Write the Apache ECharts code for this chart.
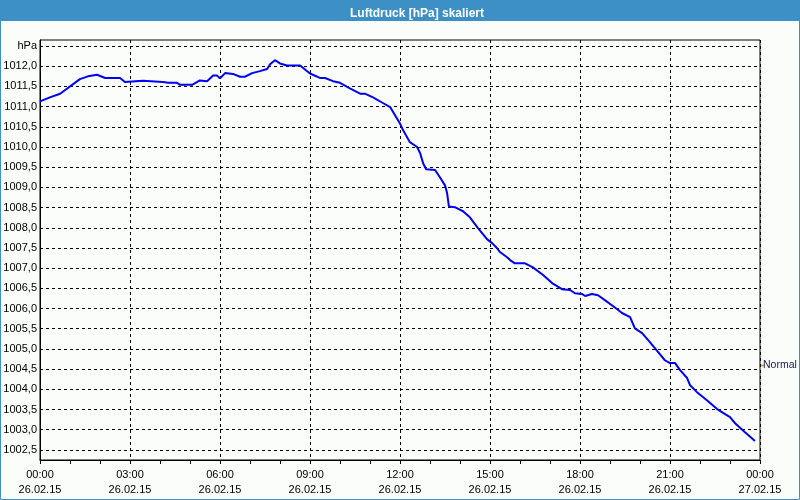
<!DOCTYPE html>
<html>
<head>
<meta charset="utf-8">
<script src="https://cdn.jsdelivr.net/npm/echarts@6/dist/echarts.min.js"></script>
<style>html,body{margin:0;padding:0;background:#fbfdfb;}#c{width:800px;height:500px;}</style>
</head>
<body>
<div id="c"></div>
<script>
// time in hours since 26.02.15 00:00
var hours = [0,0.33,0.67,1.33,1.6,1.9,2.17,2.67,2.83,3.43,4.1,4.27,4.57,4.67,5.07,5.33,5.57,5.77,5.9,6.0,6.17,6.43,6.67,6.83,7.07,7.33,7.57,7.67,7.83,8.0,8.23,8.67,9.0,9.33,9.5,9.77,10.0,10.33,10.67,10.83,11.1,11.43,11.67,12.0,12.1,12.33,12.57,12.67,12.77,12.87,13.17,13.33,13.5,13.57,13.63,13.83,14.1,14.33,14.6,14.9,15.07,15.23,15.33,15.57,15.67,15.83,16.17,16.43,16.77,17.07,17.4,17.67,17.83,18.07,18.17,18.4,18.6,18.83,19.23,19.4,19.67,19.83,20.07,20.33,20.57,20.83,21.0,21.17,21.33,21.57,21.67,21.9,22.23,22.57,23.0,23.17,23.5,23.73,23.83];
var pressure = [1011.13,1011.23,1011.32,1011.68,1011.75,1011.79,1011.71,1011.71,1011.61,1011.64,1011.61,1011.59,1011.59,1011.54,1011.54,1011.65,1011.63,1011.77,1011.77,1011.70,1011.83,1011.81,1011.74,1011.74,1011.83,1011.88,1011.93,1012.05,1012.15,1012.07,1012.02,1012.02,1011.82,1011.71,1011.71,1011.63,1011.59,1011.45,1011.32,1011.32,1011.23,1011.09,1010.99,1010.58,1010.42,1010.12,1010.00,1009.85,1009.60,1009.45,1009.43,1009.25,1009.05,1008.86,1008.53,1008.51,1008.41,1008.26,1007.99,1007.72,1007.62,1007.50,1007.40,1007.27,1007.20,1007.12,1007.12,1007.02,1006.83,1006.63,1006.48,1006.46,1006.38,1006.36,1006.31,1006.36,1006.33,1006.21,1005.99,1005.89,1005.79,1005.51,1005.39,1005.17,1004.95,1004.72,1004.65,1004.65,1004.48,1004.28,1004.10,1003.93,1003.73,1003.51,1003.31,1003.16,1002.94,1002.79,1002.72];
var xTickValues = [0,3,6,9,12,15,18,21,24];
var xTickLabels = ["00:00\n26.02.15","03:00\n26.02.15","06:00\n26.02.15","09:00\n26.02.15","12:00\n26.02.15","15:00\n26.02.15","18:00\n26.02.15","21:00\n26.02.15","00:00\n27.02.15"];
var yTickValues = [1002.5,1003,1003.5,1004,1004.5,1005,1005.5,1006,1006.5,1007,1007.5,1008,1008.5,1009,1009.5,1010,1010.5,1011,1011.5,1012,1012.5];
var yTickLabels = ["1002,5","1003,0","1003,5","1004,0","1004,5","1005,0","1005,5","1006,0","1006,5","1007,0","1007,5","1008,0","1008,5","1009,0","1009,5","1010,0","1010,5","1011,0","1011,5","1012,0","hPa"];
var seriesName = "Normal";
var chartTitle = "Luftdruck [hPa] skaliert";

var FONT = "Liberation Sans";
function lookup(vals, labels, v){
  for (var i=0;i<vals.length;i++){ if (Math.abs(vals[i]-v)<1e-6) return labels[i]; }
  return "";
}
var chart = echarts.init(document.getElementById('c'), null, {renderer:'canvas'});
var option = {
  backgroundColor: '#fbfdfb',
  animation: false,
  title: {
    text: chartTitle, left: 412, top: 3, textAlign: 'center',
    textStyle: {color:'#ffffff', fontSize: 12, fontWeight: 'bold', fontFamily: FONT}
  },
  graphic: [
    {type:'rect', z:-1, shape:{x:0,y:0,width:800,height:21}, style:{fill:'#3d90c6'}},
    {type:'rect', z:100, shape:{x:0.5,y:0.5,width:799,height:499}, style:{fill:null, stroke:'#3d90c6', lineWidth:1}}
  ],
  legend: {
    data: [{name: seriesName, itemStyle:{color:'#e0a040'}}],
    left: 758, top: 357, orient:'vertical', padding: 3,
    icon: 'rect', itemWidth: 3, itemHeight: 2,
    textStyle: {fontSize: 10.5, color:'#1c1c3c', fontFamily: FONT, padding:[0,0,0,-6]},
    selectedMode: false
  },
  grid: {left: 40, right: 40, top: 40, bottom: 40, show: true, borderColor:'#000', borderWidth:1, backgroundColor:'transparent'},
  xAxis: {
    type: 'value', min: 0, max: 24, interval: 3,
    axisLine: {show: true, lineStyle:{color:'#000', width:1}},
    axisTick: {show: true, length: 4, lineStyle:{color:'#000'}},
    minorTick: {show: true, splitNumber: 3, length: 4, lineStyle:{color:'#000'}},
    splitLine: {show: true, lineStyle:{color:'#000', type:[3,3], width:1}},
    axisLabel: {
      margin: 7, fontSize: 11, lineHeight: 15, color:'#000', fontFamily: FONT,
      showMinLabel: true, showMaxLabel: true,
      formatter: function(v){ return lookup(xTickValues, xTickLabels, v); }
    }
  },
  yAxis: {
    type: 'value', min: 1002.25, max: 1012.65,
    axisLine: {show: true, lineStyle:{color:'#000', width:1}},
    axisTick: {show: false, customValues: yTickValues},
    splitLine: {show: true, lineStyle:{color:'#000', type:[3,3], width:1}},
    axisLabel: {
      customValues: yTickValues, margin: 3, fontSize: 11, color:'#000', fontFamily: FONT,
      formatter: function(v){ return lookup(yTickValues, yTickLabels, v); }
    }
  },
  series: [{
    name: seriesName, type: 'line', showSymbol: false, symbol:'none',
    data: hours.map(function(h,i){ return [h, pressure[i]]; }),
    lineStyle: {color:'#0000f0', width: 2},
    itemStyle: {color:'#0000f0'}
  }]
};
chart.setOption(option);
</script>
</body>
</html>
